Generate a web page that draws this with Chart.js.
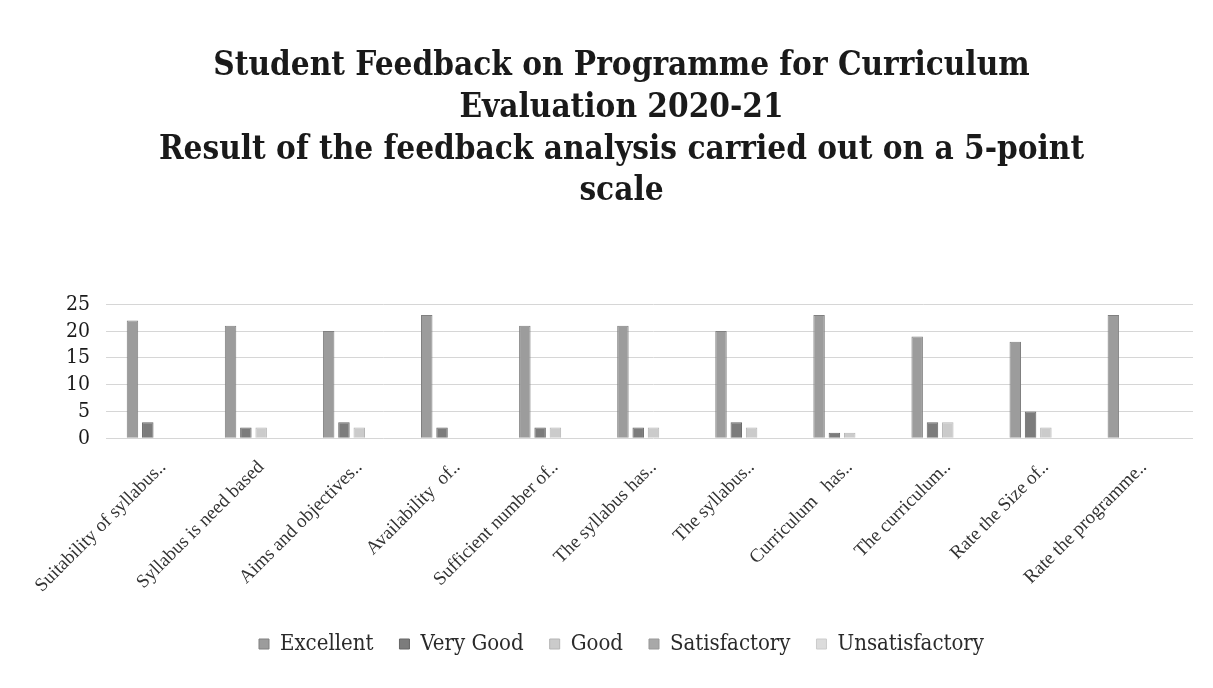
<!DOCTYPE html>
<html>
<head>
<meta charset="utf-8">
<script src="https://cdn.jsdelivr.net/npm/chart.js@4.4.0/dist/chart.umd.min.js"></script>
<style>
  html, body { margin: 0; padding: 0; background: #ffffff; }
  #contenedor { width: 1213px; height: 688px; }
</style>
</head>
<body>
<div id="contenedor"><canvas id="grafico"></canvas></div>
<script>
// Preguntas del cuestionario (etiquetas del eje X)
const preguntas = [
    'Suitability of syllabus..',
    'Syllabus is need based',
    'Aims and objectives..',
    'Availability  of..',
    'Sufficient number of..',
    'The syllabus has..',
    'The syllabus..',
    'Curriculum   has..',
    'The curriculum..',
    'Rate the Size of..',
    'Rate the programme..'
];

const excelente = [22, 21, 20, 23, 21, 21, 20, 23, 19, 18, 23];
const muyBueno = [3, 2, 3, 2, 2, 2, 3, 1, 3, 5, 0];
const bueno = [0, 2, 2, 0, 2, 2, 2, 1, 3, 2, 0];
const satisfactorio = [0, 0, 0, 0, 0, 0, 0, 0, 0, 0, 0];
const insatisfactorio = [0, 0, 0, 0, 0, 0, 0, 0, 0, 0, 0];

// Marcas del eje Y
const marcasY = [0, 5, 10, 15, 20, 25];

const titulo = [
    'Student Feedback on Programme for Curriculum',
    'Evaluation 2020-21',
    'Result of the feedback analysis carried out on a 5-point',
    'scale'
];

const fuente = "'DejaVu Serif Condensed', 'DejaVu Serif', serif";

const ctx = document.getElementById('grafico').getContext('2d');
window.chart = new Chart(ctx, {
    type: 'bar',
    data: {
        labels: preguntas,
        datasets: [
            { label: 'Excellent', data: excelente, backgroundColor: '#9c9c9c', borderColor: '#808080', borderWidth: 1 },
            { label: 'Very Good', data: muyBueno, backgroundColor: '#7c7c7c', borderColor: '#666666', borderWidth: 1 },
            { label: 'Good', data: bueno, backgroundColor: '#cbcbcb', borderColor: '#b5b5b5', borderWidth: 1 },
            { label: 'Satisfactory', data: satisfactorio, backgroundColor: '#a8a8a8', borderColor: '#999999', borderWidth: 1 },
            { label: 'Unsatisfactory', data: insatisfactorio, backgroundColor: '#dcdcdc', borderColor: '#cccccc', borderWidth: 1 }
        ]
    },
    options: {
        responsive: true,
        maintainAspectRatio: false,
        animation: false,
        layout: { padding: { left: 50, right: 20, top: 10, bottom: 23 } },
        datasets: {
            bar: { categoryPercentage: 0.78, barPercentage: 0.75 }
        },
        plugins: {
            title: {
                display: true,
                text: titulo,
                color: '#1a1a1a',
                font: { family: fuente, size: 33, weight: 'bold', lineHeight: 1.26 },
                padding: { top: 36, bottom: 92 }
            },
            legend: {
                position: 'bottom',
                labels: {
                    color: '#2a2a2a',
                    font: { family: fuente, size: 22 },
                    boxWidth: 10,
                    boxHeight: 10,
                    padding: 26
                }
            },
            tooltip: { enabled: false }
        },
        scales: {
            x: {
                grid: { display: false },
                border: { display: false },
                ticks: {
                    color: '#333333',
                    font: { family: "'Liberation Serif', serif", size: 19 },
                    minRotation: 45,
                    maxRotation: 45,
                    autoSkip: false,
                    padding: 10
                }
            },
            y: {
                min: 0,
                max: 25,
                afterBuildTicks: eje => { eje.ticks = marcasY.map(v => ({ value: v })); },
                grid: { color: '#d6d6d6', lineWidth: 1 },
                border: { display: false },
                ticks: {
                    color: '#1a1a1a',
                    font: { family: fuente, size: 21 },
                    padding: 16,
                    autoSkip: false
                }
            }
        }
    }
});
</script>
</body>
</html>
